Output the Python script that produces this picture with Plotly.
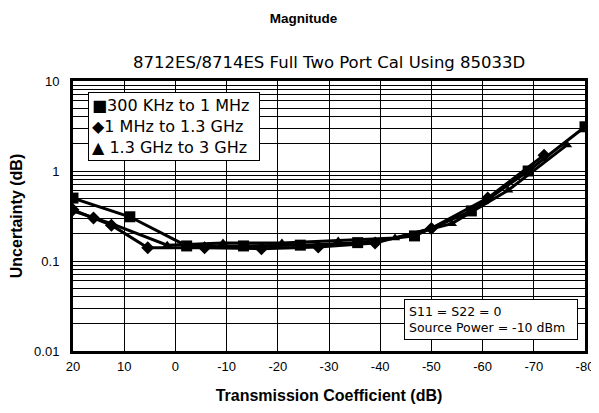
import plotly.graph_objects as go

# transmission coefficient (dB) and uncertainty (dB)
sq_x = [20, 8.9, -2.2, -13.3, -24.4, -35.6, -46.7, -57.8, -68.9, -80]
sq_y = [0.5, 0.31, 0.147, 0.147, 0.15, 0.16, 0.19, 0.36, 1.0, 3.1]

dia_x = [20, 16, 12.5, 5.4, -5.7, -16.8, -27.9, -39.0, -50.0, -61.0, -72.0]
dia_y = [0.37, 0.3, 0.25, 0.14, 0.14, 0.137, 0.143, 0.158, 0.23, 0.5, 1.5]

tri_x = [20, 12.5, 1.6, -9.3, -20.8, -31.8, -42.9, -54.0, -65.0, -76.5]
tri_y = [0.36, 0.26, 0.15, 0.158, 0.158, 0.167, 0.18, 0.26, 0.61, 1.95]

series = [
    ("300 KHz to 1 MHz", sq_x, sq_y, "square", 11, "\u25a0"),
    ("1 MHz to 1.3 GHz", dia_x, dia_y, "diamond", 10, "\u25c6"),
    ("1.3 GHz to 3 GHz", tri_x, tri_y, "triangle-up", 9, "\u25b2 "),
]

x_ticks = [20, 10, 0, -10, -20, -30, -40, -50, -60, -70, -80]
decades = [0.01, 0.1, 1, 10]
decade_labels = ["0.01", "0.1", "1", "10"]

# every 1..9 line of each decade is drawn as a grid line; only decades are labelled
y_grid = []
y_text = []
for d, lab in zip(decades[:-1], decade_labels[:-1]):
    for m in range(1, 10):
        y_grid.append(d * m)
        y_text.append(lab if m == 1 else "")
y_grid.append(decades[-1])
y_text.append(decade_labels[-1])

FONT = "Liberation Sans, Arial, sans-serif"
WIDE = "DejaVu Sans, Verdana, sans-serif"

fig = go.Figure()
for name, xs, ys, sym, size, glyph in series:
    fig.add_trace(go.Scatter(
        x=xs, y=ys, mode="lines+markers", name=name, showlegend=False,
        line={"color": "black", "width": 3},
        marker={"symbol": sym, "size": size, "color": "black"},
    ))

# the page body adds an 8px margin, so the figure is 8px smaller than the window
fig.update_layout(
    width=591,
    height=405,
    paper_bgcolor="white",
    plot_bgcolor="white",
    margin={"l": 65, "r": 14, "t": 73, "b": 62},
    font={"family": FONT, "size": 13, "color": "black"},
    title={
        "text": "<b>Magnitude</b>",
        "x": 0.5, "xanchor": "center", "y": 0.975, "yanchor": "middle",
        "font": {"size": 13.5},
        "automargin": False,
    },
    showlegend=False,
    xaxis={
        "range": [20, -80],
        "tickvals": x_ticks,
        "ticktext": [str(v) for v in x_ticks],
        "showgrid": True, "gridcolor": "black", "gridwidth": 1,
        "showline": True, "linecolor": "black", "linewidth": 3, "mirror": True,
        "zeroline": False, "ticks": "", "ticklabelstandoff": 1,
        "automargin": False,
        "title": {"text": "<b>Transmission Coefficient (dB)</b>", "font": {"size": 16}, "standoff": 18},
    },
    yaxis={
        "type": "log",
        "range": [-2, 1],
        "tickvals": y_grid,
        "ticktext": y_text,
        "showgrid": True, "gridcolor": "black", "gridwidth": 1,
        "showline": True, "linecolor": "black", "linewidth": 3, "mirror": True,
        "zeroline": False, "ticks": "", "ticklabelstandoff": 8,
        "automargin": False,
        "title": {"text": "<b>Uncertainty (dB)</b>", "font": {"size": 16}, "standoff": 14},
    },
)

fig.add_annotation(
    text="8712ES/8714ES Full Two Port Cal Using 85033D",
    xref="paper", yref="paper", x=0.5, y=1, xanchor="center", yanchor="middle",
    yshift=19, showarrow=False, font={"family": WIDE, "size": 16.5},
)

legend_text = "<br>".join(glyph + name for name, _, _, _, _, glyph in series)
fig.add_annotation(
    text=legend_text,
    xref="paper", yref="paper", x=0.03, y=0.959, xanchor="left", yanchor="top",
    align="left", showarrow=False, font={"family": WIDE, "size": 16},
    bgcolor="white", bordercolor="black", borderwidth=1, borderpad=3,
    width=164,
)
fig.add_annotation(
    text="S11 = S22 = 0<br>Source Power = -10 dBm",
    xref="paper", yref="paper", x=0.646, y=0.041, xanchor="left", yanchor="bottom",
    align="left", showarrow=False, font={"family": WIDE, "size": 12.5},
    bgcolor="white", bordercolor="black", borderwidth=1, borderpad=4,
    width=164,
)

fig.write_html("out.html")
